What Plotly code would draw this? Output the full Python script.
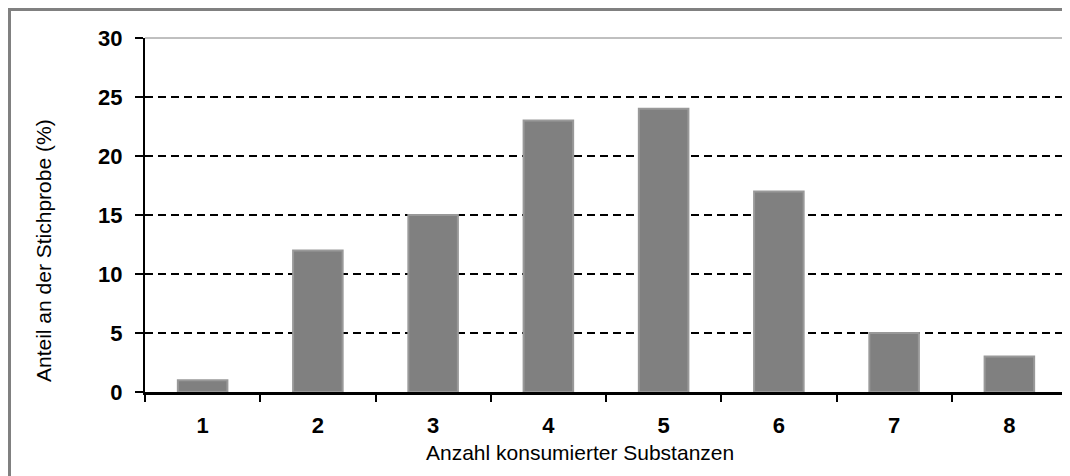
import plotly.graph_objects as go

categories = ["1", "2", "3", "4", "5", "6", "7", "8"]
values = [1, 12, 15, 23, 24, 17, 5, 3]
y_ticks = [0, 5, 10, 15, 20, 25, 30]

fig = go.Figure()
fig.add_trace(go.Bar(
    x=categories, y=values, width=0.43,
    marker=dict(color="#808080", line=dict(color="#999999", width=2)),
))

# the page body adds an 8px offset; size the figure so it fits the 1070x476 window
OFF = 8
W, H = 1070 - OFF, 476 - OFF
# desired plot area in page pixels: x 145..1067, y 38..392
L = 145 - OFF
T = 38 - OFF
R = W - (1067 - OFF)
B = H - (392 - OFF)
pw, ph = W - L - R, H - T - B

def px_x(p):
    return (p - OFF - L) / pw

def px_y(p):
    return (H - B - (p - OFF)) / ph

tick_font = dict(family="Liberation Sans, Arial, sans-serif", size=22, color="black", weight="bold")
title_font = dict(family="Liberation Sans, Arial, sans-serif", size=21, color="black")

fig.update_layout(
    width=W, height=H,
    margin=dict(l=L, r=R, t=T, b=B),
    paper_bgcolor="white", plot_bgcolor="white",
    showlegend=False,
    xaxis=dict(
        type="category", categoryorder="array", categoryarray=categories,
        range=[-0.5, 7.5], tickson="boundaries", ticks="outside", ticklen=7, tickwidth=2,
        tickcolor="black", showline=True, linecolor="black", linewidth=3,
        showgrid=False, tickfont=tick_font, ticklabelstandoff=12,
        zeroline=False,
    ),
    yaxis=dict(
        range=[0, 30], tickvals=y_ticks, ticks="outside", ticklen=8, tickwidth=2,
        tickcolor="black", showline=True, linecolor="black", linewidth=2,
        showgrid=True, gridcolor="black", gridwidth=2, griddash="8px,5px",
        tickfont=tick_font, ticklabelstandoff=8, zeroline=False,
    ),
    annotations=[
        dict(text="Anzahl konsumierter Substanzen", xref="paper", yref="paper",
             x=px_x(580), y=px_y(453), xanchor="center", yanchor="middle",
             showarrow=False, font=title_font),
        dict(text="Anteil an der Stichprobe (%)", xref="paper", yref="paper",
             x=px_x(44), y=px_y(251), xanchor="center", yanchor="middle",
             textangle=-90, showarrow=False, font=title_font),
    ],
    shapes=[
        dict(type="line", xref="paper", yref="paper", x0=0, x1=1, y0=1, y1=1,
             line=dict(color="#808080", width=1), layer="above"),
        dict(type="line", xref="paper", yref="paper", x0=1, x1=1, y0=0, y1=1,
             line=dict(color="#808080", width=2), layer="above"),
        dict(type="rect", xref="paper", yref="paper",
             x0=px_x(9.5), x1=px_x(1085), y0=px_y(495), y1=px_y(9.5),
             line=dict(color="#808080", width=3), fillcolor="rgba(0,0,0,0)", layer="above"),
    ],
)

fig.write_html("out.html")
